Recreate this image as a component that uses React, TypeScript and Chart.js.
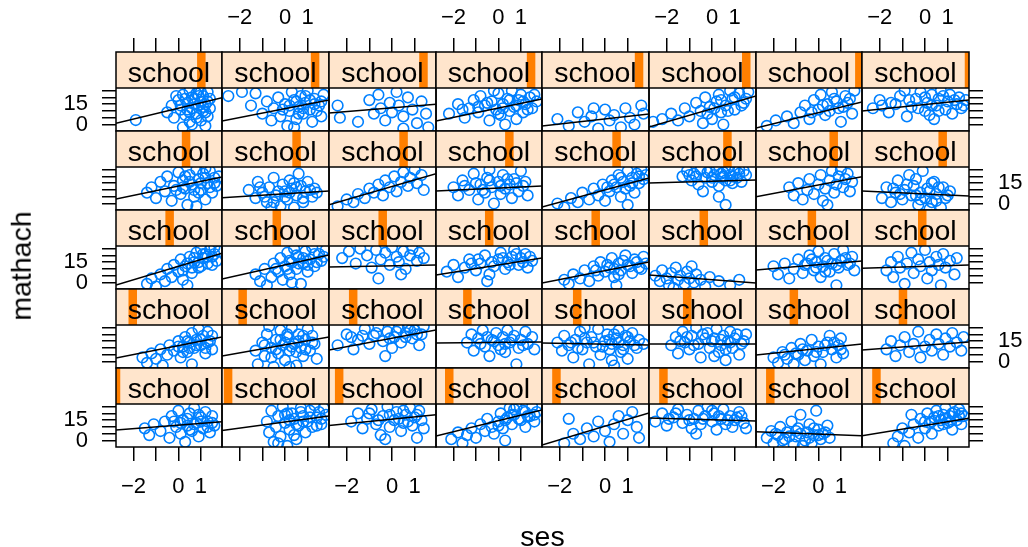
import React, { useEffect, useRef } from 'react';
import { Chart, registerables } from 'chart.js';

Chart.register(...registerables);

// ---------- data ----------
const X_MIN = -2.78;
const X_MAX = 1.94;
const Y_MIN = -4.78;
const Y_MAX = 26.94;
const X_TICKS = [-2, -1, 0, 1];
const X_TICK_LABELS = ['\u22122', '', '0', '1'];
const Y_TICKS = [0, 5, 10, 15, 20, 25];
const Y_TICK_LABELS = ['0', '', '', '15', '', ''];
const STRIP_LABEL = 'school';
const X_TITLE = 'ses';
const Y_TITLE = 'mathach';

// relative position of each school's level in the strip (rows top -> bottom)
const LEVEL_ROW1 = [0.805, 0.87, 0.883, 0.897, 0.907, 0.909, 0.975, 1.0];
const LEVEL_ROW2 = [0.661, 0.697, 0.697, 0.692, 0.697, 0.733, 0.733, 0.754];
const LEVEL_ROW3 = [0.506, 0.512, 0.502, 0.502, 0.502, 0.512, 0.527, 0.563];
const LEVEL_ROW4 = [0.158, 0.193, 0.226, 0.296, 0.329, 0.357, 0.357, 0.383];
const LEVEL_ROW5 = [0.0, 0.057, 0.095, 0.125, 0.135, 0.135, 0.135, 0.135];

// fitted line: mathach at ses = X_MIN and at ses = X_MAX
const FIT_ROW1 = [[0.9, 19.8], [2.6, 18.1], [8.5, 15], [2.6, 18.8], [-1.1, 7.8], [-1.8, 21], [-2.6, 16.6], [10, 18.1]];
const FIT_ROW2 = [[3.3, 19.6], [4.3, 9.2], [-1, 22], [9.2, 12.9], [-2.6, 18.8], [15.1, 17.4], [5.0, 19.8], [9.2, 5.5]];
const FIT_ROW3 = [[-1.8, 21.6], [2.6, 20.3], [11.5, 13], [5.6, 18.1], [-0.3, 15.1], [5.6, -0.3], [9.2, 15.9], [10.5, 12.9]];
const FIT_ROW4 = [[2.6, 18.1], [4.1, 18.1], [8.5, 23.2], [13.7, 14.4], [13.7, 12.2], [12.9, 12.9], [4.8, 12.9], [8.5, 14.4]];
const FIT_ROW5 = [[7.8, 13.9], [7.3, 18.1], [11, 19], [3.3, 22.5], [-3.3, 20.3], [16.6, 14.4], [6.5, 3.5], [3.5, 16.4]];

// points [ses, mathach] per panel
const POINTS_ROW1 = [
  [[-1.9,3.3],[-0.5,9],[-0.3,14],[-0.2,5],[0.0,18],[0.1,11],[0.2,22],[0.3,7],[0.4,16],[0.5,2],[0.5,25],[0.6,12],[0.7,19],[0.8,8],[0.8,23],[0.9,14],[1.0,3],[1.0,17],[1.1,21],[1.1,10],[1.2,-1],[1.2,15],[1.3,24],[1.3,6],[1.4,12],[0.2,-2],[0.6,0],[0.9,26],[-0.1,21],[1.4,19],[0.1,14],[0.3,19],[0.5,9],[0.7,15],[0.9,21],[1.1,13],[1.3,17],[0.4,11],[0.8,5],[1.0,24],[0.6,20],[1.2,9]],
  [[-2.5,21],[-1.9,24],[-1.5,14],[-1.3,23],[-1.0,8],[-0.8,17],[-0.6,3],[-0.5,12],[-0.3,20],[-0.2,6],[0.0,15],[0.1,-1],[0.2,10],[0.3,24],[0.4,18],[0.5,4],[0.6,13],[0.7,21],[0.8,8],[0.9,16],[1.0,25],[1.1,11],[1.2,2],[1.3,19],[1.5,14],[1.6,6],[1.7,22],[0.4,-2],[0.2,14],[0.5,17],[0.8,12],[1.1,18],[1.4,10],[0.6,8],[0.9,21],[1.3,15],[-0.1,11],[1.6,17]],
  [[-2.4,14],[-2.3,5],[-1.5,2],[-1.0,18],[-0.8,8],[-0.6,22],[-0.5,12],[-0.3,3],[-0.1,16],[0.0,9],[0.2,24],[0.3,14],[0.5,6],[0.7,20],[0.9,11],[1.1,1],[1.3,17],[1.5,8],[1.6,-2],[0.5,-3]],
  [[-2.2,8],[-1.8,15],[-1.5,5],[-1.3,12],[-1.1,18],[-0.9,9],[-0.8,21],[-0.6,14],[-0.4,3],[-0.3,17],[-0.1,11],[0.0,23],[0.1,7],[0.2,15],[0.4,19],[0.5,10],[0.6,25],[0.7,13],[0.8,4],[0.9,18],[1.0,22],[1.1,9],[1.2,15],[1.4,20],[1.5,12],[1.7,17],[0.3,0],[-0.2,25],[-0.5,16],[0.2,12],[0.5,18],[0.8,14],[1.1,17],[-0.9,13],[1.3,11],[0.0,8],[-1.6,11],[1.6,22]],
  [[-2.1,4],[-1.6,-1],[-1.2,9],[-0.9,2],[-0.6,6],[-0.3,-3],[0.0,11],[0.2,3],[0.4,7],[0.7,-2],[0.9,12],[1.1,5],[1.3,0],[1.6,14],[1.7,8],[-0.5,12]],
  [[-2.6,2],[-2.2,4],[-1.8,8],[-1.5,3],[-1.2,12],[-1.0,6],[-0.7,16],[-0.5,10],[-0.3,20],[-0.1,13],[0.0,4],[0.2,17],[0.3,22],[0.4,9],[0.6,14],[0.8,25],[0.9,19],[1.0,11],[1.2,23],[1.4,16],[1.6,24],[0.5,0],[-0.4,1],[0.1,12],[0.4,18],[0.7,10],[1.0,20],[1.3,14],[-0.2,8],[1.5,19]],
  [[-2.3,-1],[-1.9,3],[-1.4,6],[-1.1,1],[-0.8,9],[-0.6,14],[-0.4,4],[-0.2,18],[0.0,11],[0.1,22],[0.3,7],[0.4,15],[0.6,24],[0.7,19],[0.9,12],[1.0,2],[1.2,21],[1.3,16],[1.5,8],[1.6,25],[0.2,14],[0.5,10],[0.8,17],[1.1,13],[1.4,19],[-0.3,9]],
  [[-2.3,12],[-2.0,18],[-1.6,9],[-1.3,15],[-1.1,21],[-0.8,6],[-0.6,13],[-0.4,19],[-0.2,24],[0.0,10],[0.1,16],[0.3,22],[0.4,4],[0.5,14],[0.6,19],[0.7,25],[0.9,11],[1.0,17],[1.1,22],[1.2,8],[1.4,15],[1.5,20],[1.6,12],[1.8,18],[0.2,7],[-0.9,25],[-1.5,16],[-0.7,18],[0.0,20],[0.3,14],[0.8,21],[1.3,18],[-0.3,12],[1.7,14],[-1.9,14],[0.6,10]],
];
const POINTS_ROW2 = [
  [[-1.4,8],[-1.2,12],[-1.0,4],[-0.8,16],[-0.6,9],[-0.5,20],[-0.3,2],[-0.2,13],[0.0,23],[0.1,7],[0.2,17],[0.3,11],[0.4,-1],[0.5,21],[0.6,14],[0.7,5],[0.8,25],[0.9,18],[1.0,10],[1.1,22],[1.2,3],[1.3,15],[1.4,24],[1.5,8],[1.6,19],[1.7,13],[0.8,-2],[1.2,26],[0.2,12],[0.5,16],[0.7,10],[1.0,15],[1.2,19],[1.4,12],[0.9,8],[1.6,15],[0.3,20],[-0.1,10],[1.8,20]],
  [[-1.6,10],[-1.3,4],[-1.2,16],[-1.0,8],[-0.8,1],[-0.7,12],[-0.5,19],[-0.4,6],[-0.2,-2],[-0.1,14],[0.0,9],[0.1,3],[0.2,17],[0.3,11],[0.4,-3],[0.5,6],[0.6,22],[0.7,13],[0.8,1],[0.9,9],[1.0,16],[1.2,5],[1.3,11],[1.4,8],[-0.6,-3],[-0.9,5],[-0.3,9],[0.2,8],[0.5,12],[0.8,4],[1.1,10],[-0.5,1],[0.0,5],[0.4,15],[-1.1,12]],
  [[-2.4,-2],[-2.0,3],[-1.7,1],[-1.5,7],[-1.2,4],[-1.0,11],[-0.8,8],[-0.6,14],[-0.4,6],[-0.3,17],[-0.1,12],[0.1,20],[0.2,9],[0.4,16],[0.5,23],[0.7,13],[0.8,19],[1.0,25],[1.1,15],[1.3,21],[1.4,10]],
  [[-2.0,12],[-1.8,6],[-1.6,17],[-1.3,10],[-1.1,22],[-0.9,3],[-0.8,14],[-0.6,8],[-0.5,19],[-0.3,12],[-0.2,0],[0.0,16],[0.1,7],[0.2,21],[0.3,11],[0.5,14],[0.6,4],[0.7,18],[0.9,9],[1.0,24],[1.1,13],[1.3,6],[-0.4,25],[-1.0,15],[-0.4,17],[0.1,13],[0.4,18],[0.8,15],[-0.7,10],[1.2,16],[-1.5,13]],
  [[-2.1,0],[-1.8,-3],[-1.5,4],[-1.2,1],[-1.0,8],[-0.7,3],[-0.5,11],[-0.3,6],[-0.1,14],[0.0,2],[0.2,9],[0.3,17],[0.5,12],[0.6,21],[0.7,5],[0.8,16],[1.0,24],[1.1,13],[1.2,19],[1.3,8],[1.4,22],[1.5,15],[1.6,25],[1.7,18],[1.0,-1],[0.4,14],[0.7,19],[0.9,11],[1.2,15],[1.5,20],[1.8,21],[0.1,12]],
  [[-1.3,20],[-1.1,24],[-0.9,17],[-0.8,22],[-0.6,14],[-0.5,25],[-0.3,19],[-0.2,23],[0.0,16],[0.1,21],[0.2,25],[0.3,13],[0.4,19],[0.5,23],[0.6,17],[0.7,26],[0.8,21],[0.9,15],[1.0,24],[1.1,19],[1.2,22],[1.3,16],[1.4,24],[0.3,5],[0.6,-1],[-0.4,9],[-0.7,20],[-0.1,24],[0.4,22],[0.9,20],[1.2,25],[-1.0,21],[0.5,20],[0.0,19],[1.5,21],[0.8,17]],
  [[-1.3,12],[-1.1,6],[-0.9,15],[-0.7,3],[-0.5,10],[-0.4,18],[-0.2,7],[0.0,14],[0.1,21],[0.2,2],[0.3,11],[0.5,17],[0.6,24],[0.7,8],[0.8,14],[0.9,20],[1.0,25],[1.1,12],[1.2,18],[1.3,22],[1.4,9],[1.5,16],[0.4,-1]],
  [[-1.9,4],[-1.7,12],[-1.5,1],[-1.3,8],[-1.2,17],[-1.0,3],[-0.9,10],[-0.7,21],[-0.6,6],[-0.5,13],[-0.3,-1],[-0.2,8],[-0.1,24],[0.0,4],[0.1,11],[0.3,1],[0.4,16],[0.5,7],[0.7,-3],[0.8,12],[0.9,4],[1.1,9],[-0.4,18],[0.2,-4],[-1.4,11],[-0.8,14],[-0.4,6],[0.2,9],[0.6,12],[1.0,6],[-1.1,7],[0.3,15],[-0.2,3],[0.5,2]],
];
const POINTS_ROW3 = [
  [[-1.4,-1],[-1.2,3],[-1.0,-3],[-0.8,6],[-0.6,1],[-0.5,10],[-0.3,4],[-0.2,13],[0.0,8],[0.1,17],[0.2,2],[0.3,12],[0.5,19],[0.6,7],[0.7,15],[0.8,22],[0.9,11],[1.0,25],[1.1,18],[1.2,21],[1.3,14],[1.4,24],[1.5,19],[1.6,26],[1.7,16],[0.4,-2],[1.8,23],[0.4,14],[0.7,18],[0.9,15],[1.1,21],[1.3,19],[1.5,13],[0.2,9],[1.0,12],[1.6,21],[0.6,11]],
  [[-1.3,6],[-1.1,1],[-0.9,10],[-0.8,-2],[-0.6,4],[-0.5,14],[-0.3,8],[-0.2,18],[-0.1,2],[0.0,12],[0.1,22],[0.2,6],[0.3,15],[0.4,25],[0.5,10],[0.6,19],[0.7,-1],[0.8,14],[0.9,23],[1.0,8],[1.1,17],[1.2,26],[1.3,12],[1.5,21],[1.6,16],[1.8,24],[0.3,0],[0.2,16],[0.5,20],[0.8,18],[1.0,13],[1.3,21],[0.1,10],[1.4,15],[0.6,14],[-0.4,10],[1.7,19]],
  [[-2.2,18],[-1.9,23],[-1.6,14],[-1.4,25],[-1.1,20],[-0.9,11],[-0.7,24],[-0.5,17],[-0.3,22],[-0.1,13],[0.0,26],[0.2,19],[0.3,15],[0.5,23],[0.6,10],[0.8,20],[0.9,25],[1.1,16],[1.2,22],[1.4,18],[-0.6,3],[0.4,6]],
  [[-2.3,8],[-2.0,13],[-1.8,4],[-1.5,11],[-1.3,17],[-1.0,9],[-0.8,14],[-0.6,20],[-0.4,6],[-0.2,12],[0.0,17],[0.1,22],[0.3,10],[0.4,15],[0.6,19],[0.7,24],[0.9,13],[1.0,18],[1.2,21],[1.3,11],[1.5,16],[-0.5,1],[-1.2,14],[-0.3,15],[0.2,18],[0.5,13],[0.8,21],[1.1,15],[-0.9,17],[1.4,19]],
  [[-1.8,2],[-1.6,-1],[-1.4,6],[-1.1,3],[-0.9,9],[-0.7,1],[-0.5,12],[-0.3,5],[-0.2,15],[0.0,8],[0.2,11],[0.3,18],[0.4,4],[0.6,14],[0.7,9],[0.9,20],[1.0,13],[1.2,7],[1.3,17],[1.5,11],[1.7,19],[1.8,14],[0.5,-2],[0.1,13],[0.4,10],[0.8,16],[1.1,12],[1.4,15],[1.6,10],[-0.4,9],[0.6,6]],
  [[-2.5,5],[-2.3,1],[-2.2,9],[-2.0,3],[-1.9,-2],[-1.8,7],[-1.6,11],[-1.5,2],[-1.4,5],[-1.2,-1],[-1.1,8],[-1.0,3],[-0.9,12],[-0.8,0],[-0.7,6],[-0.5,2],[-0.3,-3],[-0.1,4],[0.3,1],[0.8,-2],[1.2,2],[-1.7,-4]],
  [[-2.0,12],[-1.8,6],[-1.5,14],[-1.3,3],[-1.1,10],[-0.9,17],[-0.7,7],[-0.6,13],[-0.4,20],[-0.2,9],[-0.1,15],[0.0,23],[0.1,4],[0.2,12],[0.3,18],[0.5,8],[0.6,14],[0.7,21],[0.8,-2],[0.9,11],[1.0,16],[1.1,24],[1.3,13],[1.5,19],[1.6,9],[-0.5,14],[-0.1,11],[0.4,16],[0.8,13],[1.2,18],[-0.3,17],[0.3,8],[1.4,14]],
  [[-1.7,9],[-1.5,15],[-1.4,4],[-1.2,19],[-1.1,11],[-0.9,-1],[-0.8,14],[-0.6,22],[-0.5,7],[-0.3,17],[-0.2,12],[0.0,24],[0.1,3],[0.2,15],[0.3,9],[0.5,19],[0.6,13],[0.7,-2],[0.8,21],[0.9,11],[1.1,16],[1.3,6],[1.4,18]],
];
const POINTS_ROW4 = [
  [[-1.6,3],[-1.4,-1],[-1.2,6],[-1.0,2],[-0.8,9],[-0.7,-3],[-0.5,5],[-0.4,12],[-0.2,8],[0.0,15],[0.1,3],[0.2,11],[0.3,18],[0.4,7],[0.5,14],[0.6,21],[0.7,10],[0.8,16],[0.9,24],[1.0,12],[1.1,19],[1.2,6],[1.3,22],[1.4,15],[1.5,9],[0.6,-2],[0.2,7],[0.5,10],[0.8,12],[1.0,16],[1.3,14],[0.4,15],[1.2,10],[0.0,11],[1.5,19]],
  [[-1.3,8],[-1.2,-2],[-1.0,14],[-0.9,4],[-0.8,20],[-0.6,10],[-0.5,-4],[-0.4,16],[-0.3,6],[-0.2,23],[-0.1,12],[0.0,1],[0.1,18],[0.2,8],[0.3,25],[0.4,13],[0.5,-3],[0.6,20],[0.7,10],[0.8,4],[0.9,16],[1.0,24],[1.1,8],[1.2,19],[1.3,13],[1.4,2],[0.2,-4],[-0.7,26],[-0.9,12],[-0.4,9],[0.0,14],[0.3,11],[0.6,15],[0.9,9],[1.2,14],[-0.2,16],[0.5,7],[0.1,20],[-0.6,3],[0.8,19]],
  [[-2.4,12],[-2.0,20],[-1.7,9],[-1.5,16],[-1.2,24],[-1.0,13],[-0.8,19],[-0.6,26],[-0.4,15],[-0.2,22],[0.0,10],[0.1,18],[0.3,25],[0.4,14],[0.6,21],[0.7,26],[0.9,17],[1.0,23],[1.2,12],[1.3,20],[1.4,26],[-0.3,4],[-1.8,18],[-0.7,21],[0.2,22],[0.6,18],[1.1,20],[-1.3,19],[0.8,23],[-0.1,17]],
  [[-1.4,14],[-1.2,20],[-1.1,8],[-0.9,17],[-0.7,23],[-0.6,11],[-0.4,4],[-0.3,16],[-0.1,21],[0.0,12],[0.2,18],[0.3,7],[0.4,23],[0.5,14],[0.7,19],[0.8,-2],[0.9,10],[1.0,16],[1.2,22],[1.3,13],[1.5,18],[1.6,9],[-0.8,13],[-0.2,15],[0.1,9],[0.6,16],[1.1,12],[-0.5,18],[0.3,13]],
  [[-2.1,14],[-1.9,8],[-1.8,19],[-1.6,12],[-1.4,3],[-1.3,16],[-1.1,22],[-1.0,9],[-0.8,14],[-0.7,-2],[-0.6,18],[-0.4,11],[-0.3,24],[-0.2,5],[0.0,15],[0.1,20],[0.2,9],[0.3,13],[0.4,-3],[0.5,17],[0.6,23],[0.7,7],[0.8,12],[0.9,19],[1.0,2],[1.1,15],[1.2,21],[1.4,10],[1.5,16],[1.7,13],[-0.9,25],[0.3,1],[-1.5,14],[-0.9,17],[-0.5,14],[-0.1,11],[0.2,16],[0.6,14],[1.0,18],[1.3,12],[-1.2,10],[0.4,20],[0.8,9]],
  [[-1.8,12],[-1.6,18],[-1.5,6],[-1.3,22],[-1.2,14],[-1.0,9],[-0.9,19],[-0.7,25],[-0.6,13],[-0.5,3],[-0.3,17],[-0.2,21],[-0.1,10],[0.0,15],[0.2,24],[0.3,7],[0.4,12],[0.5,19],[0.6,1],[0.7,15],[0.8,22],[0.9,10],[1.0,17],[1.2,5],[1.3,13],[1.5,20],[0.1,4],[-1.4,15],[-0.8,12],[-0.4,20],[0.1,17],[0.4,16],[0.8,14],[1.1,20],[-1.1,18],[0.6,9],[1.4,15]],
  [[-2.0,3],[-1.8,-1],[-1.6,7],[-1.4,2],[-1.2,10],[-1.1,-2],[-0.9,5],[-0.8,13],[-0.6,1],[-0.5,8],[-0.3,16],[-0.2,4],[0.0,11],[0.1,-2],[0.2,7],[0.4,14],[0.5,19],[0.6,9],[0.8,3],[0.9,12],[1.0,17],[1.1,6],[-1.5,5],[-0.7,9],[-0.1,7],[0.3,12],[0.7,14],[1.0,9],[-1.0,6]],
  [[-1.7,9],[-1.5,15],[-1.3,4],[-1.1,12],[-0.9,18],[-0.7,7],[-0.5,13],[-0.3,22],[-0.2,3],[0.0,11],[0.2,16],[0.3,8],[0.5,20],[0.6,13],[0.8,5],[0.9,17],[1.1,11],[1.2,21],[1.4,14],[1.6,8],[1.7,18]],
];
const POINTS_ROW5 = [
  [[-1.5,9],[-1.3,4],[-1.1,12],[-0.8,7],[-0.6,14],[-0.4,2],[-0.3,18],[-0.1,10],[0.0,22],[0.1,5],[0.2,15],[0.3,-1],[0.4,11],[0.5,20],[0.6,7],[0.7,24],[0.8,13],[0.9,3],[1.0,17],[1.1,9],[1.2,21],[1.3,14],[1.4,6],[1.5,18],[1.6,11],[0.1,13],[0.4,16],[0.7,12],[1.0,14],[1.3,10],[0.5,8],[0.9,19],[-0.2,14],[1.5,13]],
  [[-0.8,14],[-0.7,6],[-0.6,22],[-0.5,-1],[-0.4,10],[-0.3,18],[-0.2,3],[-0.1,25],[0.0,13],[0.1,-4],[0.2,8],[0.3,20],[0.4,16],[0.5,1],[0.6,11],[0.7,24],[0.8,18],[0.9,6],[1.0,14],[1.1,22],[1.2,10],[1.3,26],[1.4,17],[1.5,21],[1.6,12],[1.7,24],[1.8,19],[0.1,20],[-0.3,-2],[0.2,15],[0.5,12],[0.8,14],[1.1,17],[1.4,11],[0.0,19],[0.7,21],[1.6,16],[0.4,4]],
  [[-1.8,14],[-1.5,20],[-1.3,9],[-1.1,16],[-0.9,23],[-0.7,12],[-0.5,4],[-0.4,18],[-0.2,25],[-0.1,10],[0.1,15],[0.2,21],[0.4,7],[0.5,13],[0.6,19],[0.8,24],[0.9,11],[1.0,17],[1.1,2],[1.2,22],[1.3,15],[1.4,9],[-0.3,1],[-0.6,15],[-0.1,19],[0.3,16],[0.7,14],[1.1,19],[-1.0,20],[0.5,22]],
  [[-2.1,1],[-1.8,6],[-1.6,-2],[-1.4,4],[-1.2,9],[-1.0,2],[-0.8,12],[-0.6,7],[-0.5,16],[-0.3,10],[-0.2,5],[0.0,14],[0.1,20],[0.2,9],[0.4,17],[0.5,24],[0.6,12],[0.7,19],[0.8,25],[1.0,15],[1.1,22],[1.2,10],[1.3,18],[1.5,25],[1.6,14],[1.7,21],[0.3,0],[0.3,15],[0.6,19],[0.9,16],[1.2,21],[1.4,18],[0.0,11],[1.6,19],[0.7,23]],
  [[-1.8,-2],[-1.4,5],[-1.1,1],[-0.8,9],[-0.5,3],[-0.3,14],[0.0,7],[0.2,-1],[0.4,12],[0.6,18],[0.8,5],[1.0,15],[1.2,21],[1.4,10],[1.5,2],[-1.6,16]],
  [[-2.5,14],[-2.2,20],[-2.0,11],[-1.7,17],[-1.5,23],[-1.3,13],[-1.1,19],[-0.9,9],[-0.8,16],[-0.6,22],[-0.5,12],[-0.3,18],[-0.2,25],[0.0,14],[0.1,20],[0.2,8],[0.4,16],[0.5,23],[0.6,12],[0.8,18],[0.9,10],[1.0,15],[1.2,21],[1.4,13],[1.5,9],[-0.7,5],[-1.9,16],[-1.0,15],[-0.4,16],[0.3,18],[0.7,15],[1.1,17],[-1.6,20],[0.0,22],[1.3,18]],
  [[-2.3,2],[-2.1,7],[-2.0,-2],[-1.8,4],[-1.7,10],[-1.5,1],[-1.4,6],[-1.2,14],[-1.1,-3],[-1.0,3],[-0.9,9],[-0.8,19],[-0.6,0],[-0.5,6],[-0.4,12],[-0.3,-2],[-0.2,4],[-0.1,22],[0.0,8],[0.1,1],[0.2,5],[0.4,11],[0.5,2],[-0.7,-4],[-1.9,5],[-1.3,3],[-0.8,5],[-0.4,2],[0.0,4],[-1.6,0],[-1.0,7],[-0.2,9],[0.3,6]],
  [[-1.4,-2],[-1.2,3],[-1.0,9],[-0.9,-4],[-0.7,6],[-0.5,12],[-0.3,2],[-0.2,16],[0.0,9],[0.1,20],[0.2,13],[0.3,5],[0.4,17],[0.5,22],[0.6,11],[0.7,15],[0.8,19],[0.9,24],[1.0,13],[1.1,18],[1.2,8],[1.3,21],[1.4,15],[1.5,23],[1.6,12],[1.7,18],[-0.6,19],[0.3,14],[0.6,18],[0.9,16],[1.2,20],[1.5,18],[0.8,12],[1.6,20],[1.1,14],[0.0,14]],
];

const POINTS = [POINTS_ROW1, POINTS_ROW2, POINTS_ROW3, POINTS_ROW4, POINTS_ROW5];
const FITS = [FIT_ROW1, FIT_ROW2, FIT_ROW3, FIT_ROW4, FIT_ROW5];
const LEVELS = [LEVEL_ROW1, LEVEL_ROW2, LEVEL_ROW3, LEVEL_ROW4, LEVEL_ROW5];

// ---------- layout & style ----------
const PAGE_W = 1028;
const PAGE_H = 547;
const COL_EDGES = [116, 222, 329, 436, 542, 649, 756, 862, 969];
const ROW_EDGES = [52, 131, 210, 289, 368, 447];
const STRIP_H = 36;
const PAD = 3;
const FONT = '"Liberation Sans", Arial, Helvetica, sans-serif';
const TICK_FONT_SIZE = 22;
const MAIN_FONT_SIZE = 28.5;
const BLUE = '#0080ff';
const STRIP_BG = '#ffe5cc';
const STRIP_BAR = '#ff7f00';
const BAR_W = 8.5;
const LINE_W = 1.5;

function stripPlugin(level: number) {
  return {
    id: 'latticeStrip',
    afterDatasetsDraw(chart: any) {
      const { ctx, chartArea: a } = chart;
      const w = a.right - a.left;
      const sTop = a.top;
      const sBot = a.top + STRIP_H;
      ctx.save();
      ctx.fillStyle = STRIP_BG;
      ctx.fillRect(a.left, sTop, w, STRIP_H);
      ctx.beginPath();
      ctx.rect(a.left, sTop, w, STRIP_H);
      ctx.clip();
      const cx = chart.scales.lvl.getPixelForValue(level);
      ctx.fillStyle = STRIP_BAR;
      ctx.fillRect(cx - BAR_W / 2, sTop, BAR_W, STRIP_H);
      ctx.restore();

      ctx.save();
      ctx.fillStyle = '#000';
      ctx.font = `${MAIN_FONT_SIZE}px ${FONT}`;
      ctx.textAlign = 'center';
      ctx.textBaseline = 'alphabetic';
      ctx.fillText(STRIP_LABEL, (a.left + a.right) / 2, sTop + 29.7);
      ctx.strokeStyle = '#000';
      ctx.lineWidth = LINE_W;
      ctx.strokeRect(a.left, a.top, w, a.bottom - a.top);
      ctx.beginPath();
      ctx.moveTo(a.left, sBot);
      ctx.lineTo(a.right, sBot);
      ctx.stroke();
      ctx.restore();
    },
  };
}

function Panel({ r, c }: { r: number; c: number }) {
  const ref = useRef<HTMLCanvasElement | null>(null);
  const hasTop = r === 0;
  const hasBottom = r === ROW_EDGES.length - 2;
  const hasLeft = c === 0;
  const hasRight = c === COL_EDGES.length - 2;
  const mL = hasLeft ? COL_EDGES[0] : PAD;
  const mR = hasRight ? PAGE_W - COL_EDGES[COL_EDGES.length - 1] : PAD;
  const mT = hasTop ? ROW_EDGES[0] : PAD;
  const mB = hasBottom ? PAGE_H - ROW_EDGES[ROW_EDGES.length - 1] : PAD;
  const areaW = COL_EDGES[c + 1] - COL_EDGES[c];
  const areaH = ROW_EDGES[r + 1] - ROW_EDGES[r];
  const left = COL_EDGES[c] - mL;
  const top = ROW_EDGES[r] - mT;
  const width = areaW + mL + mR;
  const height = areaH + mT + mB;

  useEffect(() => {
    const canvas = ref.current;
    if (!canvas) return;
    const pts = POINTS[r][c];
    const fit = FITS[r][c];
    const level = LEVELS[r][c];
    const yTop = Y_MAX + (STRIP_H * (Y_MAX - Y_MIN)) / (areaH - STRIP_H);
    const showXLabels = (hasTop && c % 2 === 1) || (hasBottom && c % 2 === 0);
    const showYLabels = (hasLeft && r % 2 === 0) || (hasRight && r % 2 === 1);
    const tickFont = { family: FONT, size: TICK_FONT_SIZE };
    const xShown = hasTop || hasBottom;
    const yShown = hasLeft || hasRight;

    const chart = new Chart(canvas, {
      type: 'scatter',
      data: {
        datasets: [
          {
            type: 'line',
            data: [
              { x: X_MIN, y: fit[0] },
              { x: X_MAX, y: fit[1] },
            ],
            borderColor: '#000',
            borderWidth: LINE_W,
            pointRadius: 0,
            fill: false,
            clip: 0,
          } as any,
          {
            type: 'scatter',
            data: pts.map(([x, y]) => ({ x, y })),
            pointRadius: 5.3,
            pointHoverRadius: 5.3,
            pointBorderWidth: 1.6,
            pointBorderColor: BLUE,
            pointBackgroundColor: 'rgba(0,0,0,0)',
            borderColor: BLUE,
            backgroundColor: 'rgba(0,0,0,0)',
            clip: 0,
          } as any,
        ],
      },
      options: {
        animation: false,
        responsive: false,
        devicePixelRatio: 1,
        events: [],
        layout: {
          autoPadding: false,
          padding: {
            left: hasLeft ? 0 : PAD,
            right: hasRight ? 0 : PAD,
            top: hasTop ? 0 : PAD,
            bottom: hasBottom ? 0 : PAD,
          },
        },
        plugins: { legend: { display: false }, tooltip: { enabled: false } },
        scales: {
          x: {
            type: 'linear',
            min: X_MIN,
            max: X_MAX,
            display: xShown,
            position: hasTop ? 'top' : 'bottom',
            afterBuildTicks: (s: any) => {
              s.ticks = X_TICKS.map((v) => ({ value: v }));
            },
            afterFit: (s: any) => {
              if (!xShown) return;
              s.height = hasTop ? mT : mB;
              s.paddingLeft = 0;
              s.paddingRight = 0;
              s.paddingTop = 0;
              s.paddingBottom = 0;
            },
            grid: {
              display: true,
              drawOnChartArea: false,
              drawTicks: true,
              tickLength: 14,
              color: '#000',
              lineWidth: LINE_W,
            },
            border: { display: false },
            ticks: {
              autoSkip: false,
              maxRotation: 0,
              minRotation: 0,
              padding: hasTop ? 7 : 13,
              color: '#000',
              font: tickFont,
              callback: (v: any) => {
                if (!showXLabels) return '';
                const i = X_TICKS.indexOf(Number(v));
                return i >= 0 ? X_TICK_LABELS[i] : '';
              },
            },
          },
          y: {
            type: 'linear',
            min: Y_MIN,
            max: yTop,
            display: yShown,
            position: hasLeft ? 'left' : 'right',
            afterBuildTicks: (s: any) => {
              s.ticks = Y_TICKS.map((v) => ({ value: v }));
            },
            afterFit: (s: any) => {
              if (!yShown) return;
              s.width = hasLeft ? mL : mR;
              s.paddingLeft = 0;
              s.paddingRight = 0;
              s.paddingTop = 0;
              s.paddingBottom = 0;
            },
            grid: {
              display: true,
              drawOnChartArea: false,
              drawTicks: true,
              tickLength: 14,
              color: '#000',
              lineWidth: LINE_W,
            },
            border: { display: false },
            ticks: {
              autoSkip: false,
              padding: hasLeft ? 14 : 15,
              color: '#000',
              font: tickFont,
              callback: (v: any) => {
                if (!showYLabels) return '';
                const i = Y_TICKS.indexOf(Number(v));
                return i >= 0 ? Y_TICK_LABELS[i] : '';
              },
            },
          },
          lvl: {
            type: 'linear',
            axis: 'x',
            min: 0,
            max: 1,
            display: false,
          },
        },
      } as any,
      plugins: [stripPlugin(level)],
    });
    return () => chart.destroy();
  }, []);

  return (
    <canvas
      ref={ref}
      width={width}
      height={height}
      style={{ position: 'absolute', left, top, width, height }}
    />
  );
}

export default function App() {
  const panels: React.ReactNode[] = [];
  for (let r = 0; r < ROW_EDGES.length - 1; r++) {
    for (let c = 0; c < COL_EDGES.length - 1; c++) {
      panels.push(<Panel key={`${r}-${c}`} r={r} c={c} />);
    }
  }
  return (
    <div
      style={{
        position: 'absolute',
        left: 0,
        top: 0,
        width: PAGE_W,
        height: PAGE_H,
        overflow: 'hidden',
        background: '#fff',
      }}
    >
      {panels}
      <div
        style={{
          position: 'absolute',
          left: (COL_EDGES[0] + COL_EDGES[COL_EDGES.length - 1]) / 2,
          top: 536,
          transform: 'translate(-50%, -50%)',
          fontFamily: FONT,
          fontSize: MAIN_FONT_SIZE,
          lineHeight: 1,
          whiteSpace: 'nowrap',
          color: '#000',
        }}
      >
        {X_TITLE}
      </div>
      <div
        style={{
          position: 'absolute',
          left: 21,
          top: 266,
          transform: 'translate(-50%, -50%) rotate(-90deg)',
          fontFamily: FONT,
          fontSize: MAIN_FONT_SIZE,
          lineHeight: 1,
          whiteSpace: 'nowrap',
          color: '#000',
        }}
      >
        {Y_TITLE}
      </div>
    </div>
  );
}
